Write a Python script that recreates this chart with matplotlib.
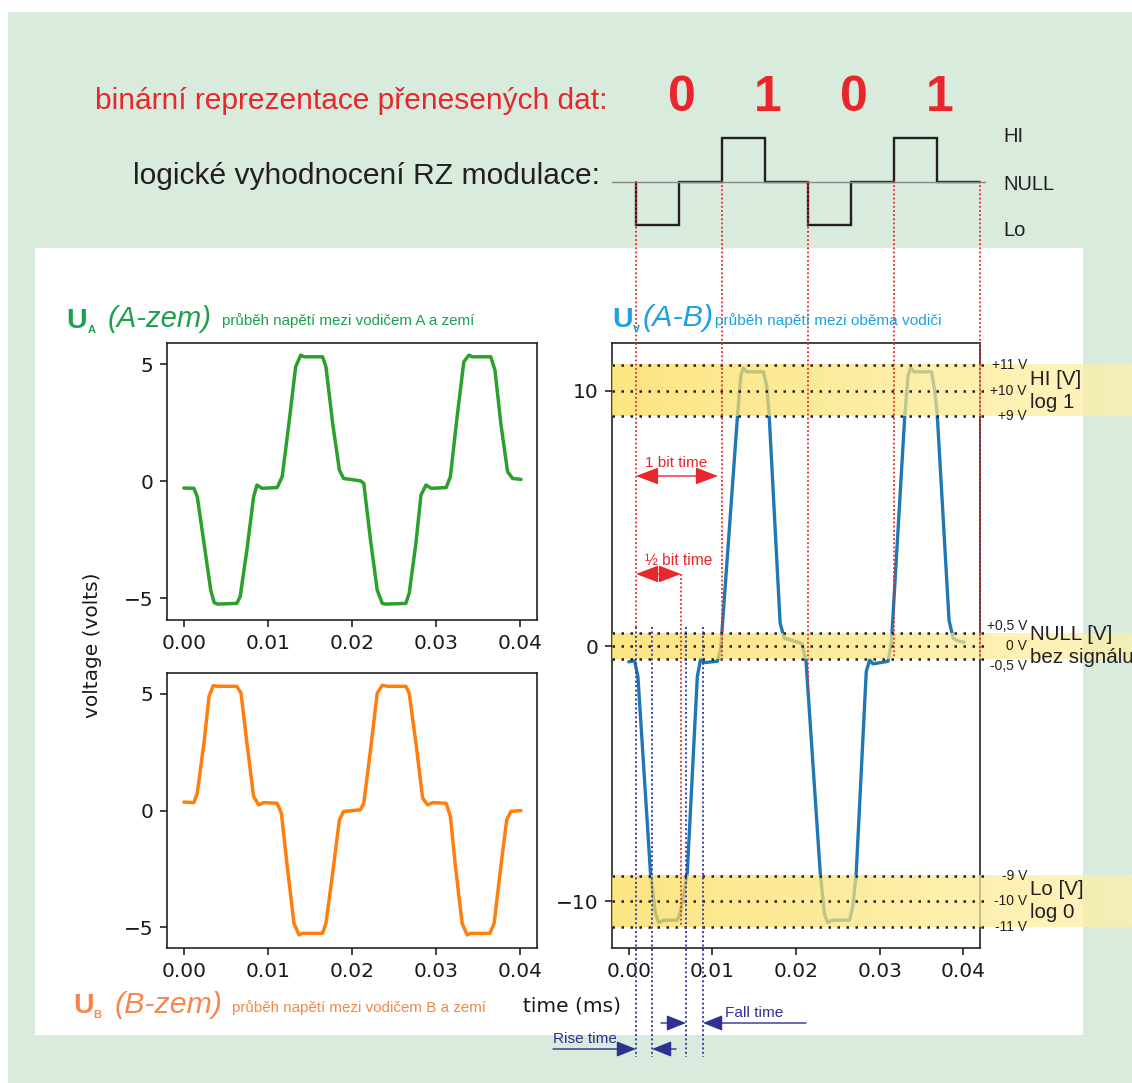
import numpy as np
import matplotlib
matplotlib.use('Agg')
import matplotlib.pyplot as plt
from matplotlib.patches import Rectangle
from matplotlib.lines import Line2D
from matplotlib.transforms import blended_transform_factory, offset_copy

W, H, DPI = 1132, 1083, 100

# ---------------- data ----------------
bits = ['0', '1', '0', '1']
rz_edges = [0, 0.5, 1, 1.5, 2, 2.5, 3, 3.5, 4]
rz_level = [-1, 0, 1, 0, -1, 0, 1, 0]
rz_names = ['HI', 'NULL', 'Lo']

ua_t = [0.0000, 0.0012, 0.0016, 0.0024, 0.0032, 0.0036, 0.0040, 0.0063, 0.0067, 0.0075,
        0.0083, 0.0087, 0.0093, 0.0111, 0.0117, 0.0125, 0.0133, 0.0139, 0.0143, 0.0165,
        0.0169, 0.0177, 0.0185, 0.0190, 0.0210, 0.0214, 0.0222, 0.0230, 0.0236, 0.0240,
        0.0264, 0.0268, 0.0276, 0.0282, 0.0288, 0.0294, 0.0312, 0.0317, 0.0325, 0.0333,
        0.0339, 0.0343, 0.0365, 0.0370, 0.0377, 0.0385, 0.0391, 0.0401]
ua_v = [-0.30, -0.31, -0.67, -2.66, -4.66, -5.19, -5.26, -5.23, -4.94, -2.95,
        -0.67, -0.17, -0.31, -0.28, 0.19, 2.46, 4.89, 5.38, 5.31, 5.31,
        4.89, 2.46, 0.47, 0.11, 0.01, -0.10, -2.52, -4.66, -5.23, -5.26,
        -5.23, -4.80, -2.66, -0.60, -0.17, -0.31, -0.28, 0.19, 2.75, 5.10,
        5.38, 5.31, 5.31, 4.74, 2.46, 0.40, 0.11, 0.07]

ub_t = [0.0000, 0.0012, 0.0016, 0.0024, 0.0030, 0.0035, 0.0040, 0.0063, 0.0068, 0.0075,
        0.0083, 0.0089, 0.0095, 0.0111, 0.0116, 0.0123, 0.0131, 0.0137, 0.0141, 0.0165,
        0.0169, 0.0177, 0.0185, 0.0190, 0.0210, 0.0214, 0.0222, 0.0230, 0.0236, 0.0242,
        0.0264, 0.0268, 0.0276, 0.0284, 0.0290, 0.0296, 0.0312, 0.0317, 0.0323, 0.0331,
        0.0337, 0.0341, 0.0364, 0.0369, 0.0377, 0.0384, 0.0389, 0.0401]
ub_v = [0.36, 0.34, 0.74, 2.90, 4.90, 5.36, 5.33, 5.33, 5.04, 2.90,
        0.60, 0.24, 0.34, 0.31, -0.11, -2.40, -4.84, -5.34, -5.27, -5.27,
        -4.84, -2.69, -0.40, -0.04, 0.03, 0.31, 2.60, 5.04, 5.37, 5.33,
        5.33, 5.04, 2.90, 0.53, 0.24, 0.34, 0.31, -0.26, -2.40, -4.84,
        -5.34, -5.27, -5.27, -4.84, -2.40, -0.40, -0.04, 0.00]

uv_t = [0.0000, 0.0007, 0.0011, 0.0026, 0.0032, 0.0036, 0.0042, 0.0058, 0.0062, 0.0070,
        0.0082, 0.0086, 0.0090, 0.0106, 0.0110, 0.0130, 0.0134, 0.0137, 0.0141, 0.0161,
        0.0165, 0.0168, 0.0181, 0.0186, 0.0192, 0.0207, 0.0212, 0.0229, 0.0234, 0.0238,
        0.0243, 0.0264, 0.0268, 0.0272, 0.0284, 0.0288, 0.0292, 0.0310, 0.0314, 0.0330,
        0.0334, 0.0337, 0.0341, 0.0362, 0.0366, 0.0369, 0.0383, 0.0388, 0.0394, 0.0401]
uv_v = [-0.62, -0.58, -1.2, -8.9, -10.5, -10.85, -10.75, -10.75, -10.4, -8.9,
        -1.2, -0.5, -0.65, -0.6, -0.1, 9.0, 10.6, 10.9, 10.75, 10.75,
        10.2, 9.0, 0.9, 0.3, 0.25, 0.1, -0.6, -8.9, -10.5, -10.85,
        -10.75, -10.75, -10.2, -8.9, -1.0, -0.55, -0.7, -0.6, 0.1, 9.0,
        10.6, 10.9, 10.75, 10.75, 10.0, 9.0, 1.0, 0.3, 0.2, 0.15]

xticks = [0.00, 0.01, 0.02, 0.03, 0.04]
ab_yticks = [-5, 0, 5]
uv_yticks = [-10, 0, 10]
level_values = [11, 10, 9, 0.5, 0, -0.5, -9, -10, -11]
level_labels = ['+11 V', '+10 V', '+9 V', '+0,5 V', '0 V', '-0,5 V', '-9 V', '-10 V', '-11 V']
level_va = ['center', 'center', 'center', 'bottom', 'center', 'top', 'center', 'center', 'center']
bands = [(9, 11), (-0.5, 0.5), (-11, -9)]
band_names = [('HI [V]', 'log 1'), ('NULL [V]', 'bez signálu'), ('Lo [V]', 'log 0')]

# ---------------- style ----------------
RED = '#e8262b'
DARK = '#231f20'
NAVY = '#2e3192'
GREEN_T = '#1ba14b'
ORANGE_T = '#f4874b'
BLUE_T = '#1da1e1'
SANS = 'Liberation Sans'

plt.rcParams['font.family'] = ['DejaVu Sans']

fig = plt.figure(figsize=(W / DPI, H / DPI), dpi=DPI, facecolor='white')


def box(x0, y0, x1, y1):
    return [x0 / W, 1 - y1 / H, (x1 - x0) / W, (y1 - y0) / H]


bg = fig.add_axes([0, 0, 1, 1], zorder=-10)
bg.set_xlim(0, W); bg.set_ylim(H, 0); bg.axis('off')
bg.add_patch(Rectangle((8, 12), W - 8, H - 12, facecolor='#d9ebdc', edgecolor='none'))
bg.add_patch(Rectangle((35, 248), 1083 - 35, 1035 - 248, facecolor='white', edgecolor='none'))

ov = fig.add_axes([0, 0, 1, 1], zorder=5)
ov.set_xlim(0, W); ov.set_ylim(H, 0); ov.axis('off')


def style(ax):
    for s in ax.spines.values():
        s.set_linewidth(1.15)
        s.set_color('#1a1a1a')
    ax.tick_params(labelsize=14.5, length=5, width=1.15, pad=5, colors='#1a1a1a')


axA = fig.add_axes(box(167, 343, 537, 620))
axB = fig.add_axes(box(167, 673, 537, 948))
axV = fig.add_axes(box(612, 343, 980, 948))
for ax in (axA, axB, axV):
    style(ax)

axA.plot(ua_t, ua_v, color='#2ca02c', lw=2.5, solid_joinstyle='round', solid_capstyle='round')
axB.plot(ub_t, ub_v, color='#ff7f0e', lw=2.5, solid_joinstyle='round', solid_capstyle='round')
axV.plot(uv_t, uv_v, color='#1f77b4', lw=2.4, solid_joinstyle='round', solid_capstyle='round', zorder=2)
for ax in (axA, axB):
    ax.set_xticks(xticks); ax.set_yticks(ab_yticks)
    ax.set_xlim(-0.002, 0.042)
axA.set_ylim(-5.94, 5.9)
axB.set_ylim(-5.9, 5.9)

# bands + level lines on the Uv chart
bt = blended_transform_factory(ov.transData, axV.transData)
ncol = 64
fx = np.linspace(0, 1, ncol)
c_left = np.array([252, 219, 82]) / 255.0
c_right = np.array([254, 241, 170]) / 255.0
grad = np.zeros((1, ncol, 4))
grad[0, :, :3] = c_left[None, :] * (1 - fx[:, None]) + c_right[None, :] * fx[:, None]
grad[0, :, 3] = 0.72
for lo, hi in bands:
    axV.imshow(grad, extent=(612, 1132, lo, hi), transform=bt, aspect='auto',
               origin='lower', interpolation='bilinear', clip_on=False, zorder=3)
for val, lab, va in zip(level_values, level_labels, level_va):
    axV.add_line(Line2D([612, 985], [val, val], transform=bt, color=DARK, lw=1.8,
                        linestyle=(0, (1, 2.6)), clip_on=False, zorder=4))
    axV.text(1027, val, lab, transform=bt, ha='right', va=va, fontsize=10,
             family=SANS, color=DARK, clip_on=False)
bt_up = offset_copy(bt, fig=fig, y=2, units='dots')
bt_dn = offset_copy(bt, fig=fig, y=-2, units='dots')
for (lo, hi), (n1, n2) in zip(bands, band_names):
    mid = (lo + hi) / 2
    axV.text(1030, mid, n1, transform=bt_up, ha='left', va='bottom', fontsize=14.8,
             family=SANS, color=DARK, clip_on=False)
    axV.text(1030, mid, n2, transform=bt_dn, ha='left', va='top', fontsize=14.8,
             family=SANS, color=DARK, clip_on=False)

axV.set_xticks(xticks); axV.set_yticks(uv_yticks)
axV.set_xlim(-0.002, 0.042)
axV.set_ylim(-11.84, 11.88)
axV.set_aspect('auto')

# ---------------- RZ diagram ----------------
axRZ = fig.add_axes(box(636, 138, 980, 225))
axRZ.set_xlim(0, 4); axRZ.set_ylim(-1, 1); axRZ.axis('off')
axRZ.axhline(0, xmin=-0.07, xmax=1.015, color='#8a8a8a', lw=1.0, clip_on=False)
axRZ.stairs(rz_level, rz_edges, baseline=0, color=DARK, lw=1.7, clip_on=False)
rzx = blended_transform_factory(axRZ.transData, ov.transData)
for i, b in enumerate(bits):
    axRZ.text(i + 0.53, 111, b, transform=rzx, ha='center', va='baseline',
              fontsize=36, fontweight='bold', family=SANS, color=RED)
for name, yc in zip(rz_names, [137, 184, 231]):
    ov.text(1003, yc, name, ha='left', va='center', fontsize=14.5, family=SANS, color=DARK)

# ---------------- texts ----------------
R = fig.canvas.get_renderer()


def put(x, y, s, width=None, **kw):
    kw.setdefault('family', SANS)
    kw.setdefault('va', 'baseline')
    kw.setdefault('ha', 'left')
    t = ov.text(x, y, s, **kw)
    if width:
        w = t.get_window_extent(R).width
        t.set_fontsize(t.get_fontsize() * width / w)
    return t


put(95, 109, 'binární reprezentace přenesených dat:', width=512, fontsize=21, color=RED)
put(133, 184, 'logické vyhodnocení RZ modulace:', width=467, fontsize=21, color=DARK)

# U_A
put(66, 328, 'U', fontsize=20.5, fontweight='bold', color=GREEN_T)
put(88, 333, 'A', fontsize=8, fontweight='bold', color=GREEN_T)
put(108, 327, '(A-zem)', width=104, fontsize=21, style='italic', color=GREEN_T)
put(222, 325, 'průběh napětí mezi vodičem A a zemí', width=251, fontsize=11, color=GREEN_T)
# U_B
put(73, 1013, 'U', fontsize=20.5, fontweight='bold', color=ORANGE_T)
put(93, 1018, 'B', fontsize=8, fontweight='bold', color=ORANGE_T)
put(115, 1013, '(B-zem)', width=108, fontsize=21, style='italic', color=ORANGE_T)
put(232, 1012, 'průběh napětí mezi vodičem B a zemí', width=253, fontsize=11, color=ORANGE_T)
# U_v
put(612, 327, 'U', fontsize=20.5, fontweight='bold', color=BLUE_T)
put(633, 332, 'v', fontsize=9, fontweight='bold', color=BLUE_T)
put(643, 326, '(A-B)', width=71, fontsize=21, style='italic', color=BLUE_T)
put(715, 325, 'průběh napětí mezi oběma vodiči', width=225, fontsize=11, color=BLUE_T)

# axis labels
ov.text(92, 645, 'voltage (volts)', rotation=90, ha='center', va='center',
        fontsize=14.5, color='#1a1a1a')
ov.text(572, 1006, 'time (ms)', ha='center', va='center', fontsize=14.5, color='#1a1a1a')

# ---------------- annotations ----------------
dot_red = dict(color=RED, lw=1.3, linestyle=(0, (1, 1.3)))
dot_blue = dict(color='#3b3ba6', lw=1.4, linestyle=(0, (1, 1.3)))
bit_x0, bit_w = 636, 86
red_bottoms = [627, 660, 690, 658, 658]
for k, yb in enumerate(red_bottoms):
    x = bit_x0 + k * bit_w
    ov.plot([x, x], [181, yb], **dot_red)
ov.plot([681, 681], [574, 927], **dot_red)
for x in [636, 652, 686, 703]:
    ov.plot([x, x], [627, 1057], **dot_blue)


def arrow(tail, tip, color, style, ms, lw=1.0):
    ov.annotate('', xy=tip, xytext=tail,
                arrowprops=dict(arrowstyle=style, color=color, lw=lw, shrinkA=0, shrinkB=0,
                                mutation_scale=ms))


arrow((636, 476), (718, 476), RED, '<|-|>,head_length=1.0,head_width=0.38', 14)
arrow((636, 574), (681, 574), RED, '<|-|>,head_length=1.0,head_width=0.38', 14)
put(645, 467, '1 bit time', width=62, fontsize=11, color=RED)
put(645, 565, '½ bit time', width=67, fontsize=11, color=RED)

arrow((553, 1049), (636, 1049), NAVY, '-|>,head_length=1.0,head_width=0.4', 12)
arrow((676, 1049), (652, 1049), NAVY, '-|>,head_length=1.0,head_width=0.4', 12)
arrow((661, 1023), (686, 1023), NAVY, '-|>,head_length=1.0,head_width=0.4', 12)
arrow((806, 1023), (703, 1023), NAVY, '-|>,head_length=1.0,head_width=0.4', 12)
put(553, 1043, 'Rise time', width=64, fontsize=11, color=NAVY)
put(725, 1017, 'Fall time', width=58, fontsize=11, color=NAVY)

fig.savefig('out.png', dpi=DPI, facecolor='white')
